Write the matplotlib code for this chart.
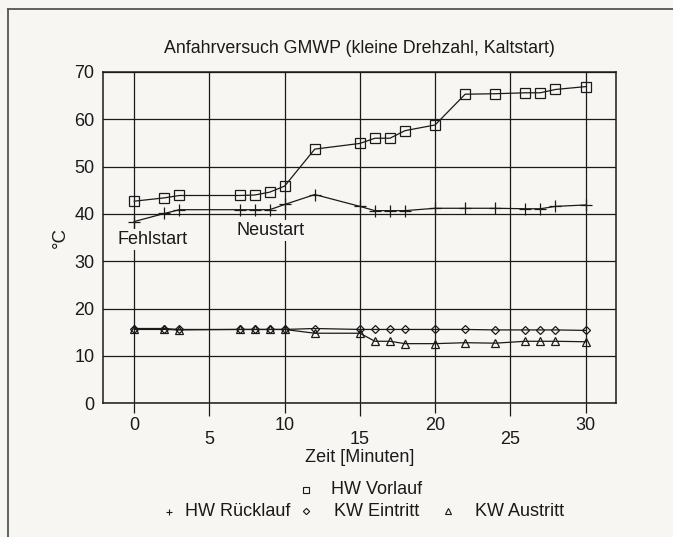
import matplotlib
matplotlib.use("Agg")
import matplotlib.pyplot as plt
from matplotlib.lines import Line2D

plt.rcParams["font.family"] = ["Liberation Sans", "DejaVu Sans"]

# Messwerte
zeit = [0, 2, 3, 7, 8, 9, 10, 12, 15, 16, 17, 18, 20, 22, 24, 26, 27, 28, 30]
hw_vorlauf = [42.7, 43.4, 43.9, 43.9, 44.0, 44.6, 45.9, 53.7, 54.9, 56.0,
              56.0, 57.6, 58.8, 65.3, 65.4, 65.6, 65.6, 66.3, 66.9]
hw_ruecklauf = [38.4, 40.1, 40.9, 40.9, 40.9, 40.9, 42.0, 44.1, 41.6, 40.7,
                40.7, 40.7, 41.2, 41.2, 41.2, 41.1, 41.1, 41.6, 41.9]
kw_eintritt = [15.8, 15.8, 15.6, 15.6, 15.6, 15.6, 15.6, 15.8, 15.6, 15.6,
               15.6, 15.6, 15.6, 15.6, 15.5, 15.5, 15.5, 15.5, 15.4]
kw_austritt = [15.6, 15.6, 15.5, 15.6, 15.6, 15.6, 15.6, 14.8, 14.8, 13.1,
               13.1, 12.6, 12.6, 12.8, 12.7, 13.1, 13.1, 13.1, 13.0]

major_x = [0, 10, 20, 30]
minor_x = [5, 15, 25]
y_ticks = [0, 10, 20, 30, 40, 50, 60, 70]

bg = "#f7f6f3"
ink = "#1a1a1a"

fig = plt.figure(figsize=(6.73, 5.37), dpi=100, facecolor=bg)
ax = fig.add_axes([0.1526, 0.249, 0.7632, 0.617], facecolor=bg)

ax.plot(zeit, hw_vorlauf, color=ink, lw=0.9, marker="s", ms=6.5,
        mfc="none", mec=ink, mew=0.9)
ax.plot(zeit, hw_ruecklauf, color=ink, lw=0.9, marker="+", ms=8, mew=0.9)
ax.plot(zeit, kw_eintritt, color=ink, lw=0.9, marker="D", ms=4.5,
        mfc="none", mec=ink, mew=0.9)
ax.plot(zeit, kw_austritt, color=ink, lw=0.9, marker="^", ms=6,
        mfc="none", mec=ink, mew=0.9)

ax.set_xlim(-2.1, 32.05)
ax.set_ylim(0, 70)
ax.set_xticks(major_x)
ax.set_xticks(minor_x, minor=True)
ax.set_xticklabels([str(v) for v in major_x])
ax.set_xticklabels([str(v) for v in minor_x], minor=True)
ax.set_yticks(y_ticks)
ax.tick_params(axis="x", which="major", direction="out", length=7, width=0.9,
               pad=3, labelsize=13, colors=ink)
ax.tick_params(axis="x", which="minor", direction="out", length=9, width=0.9,
               pad=11, labelsize=13, colors=ink)
ax.tick_params(axis="y", length=0, pad=6, labelsize=13, colors=ink)
ax.grid(True, which="both", color=ink, lw=0.9)
ax.set_axisbelow(True)
for s in ax.spines.values():
    s.set_color(ink)
    s.set_linewidth(1.1)

ax.set_title("Anfahrversuch GMWP (kleine Drehzahl, Kaltstart)", fontsize=12.8,
             color=ink, pad=14)
ax.set_xlabel("Zeit [Minuten]", fontsize=13, color=ink, labelpad=1)
ax.set_ylabel("°C", fontsize=13.5, color=ink, labelpad=4)

box = dict(facecolor=bg, edgecolor="none", pad=1.5)
ax.text(1.23, 34.6, "Fehlstart", ha="center", va="center", fontsize=13,
        color=ink, bbox=box)
ax.text(9.05, 36.5, "Neustart", ha="center", va="center", fontsize=13,
        color=ink, bbox=box)

# Legende von Hand (zwei Zeilen)
W, H = 673.0, 537.0
def leg(px, tx, py, marker, ms, label):
    fig.add_artist(Line2D([px / W], [1 - py / H], transform=fig.transFigure,
                          marker=marker, ms=ms, mfc="none", mec=ink, mew=0.8,
                          color=ink, ls="none"))
    fig.text(tx / W, 1 - py / H, label, ha="left", va="center",
             fontsize=13, color=ink)

leg(305.7, 331, 490, "s", 4, "HW Vorlauf")
leg(169.3, 185, 512, "+", 5, "HW Rücklauf")
leg(305.7, 334, 511, "D", 3.2, "KW Eintritt")
leg(448, 475, 511, "^", 4, "KW Austritt")

# Rahmen oben und links
fig.add_artist(Line2D([8 / W, 1], [1 - 9 / H, 1 - 9 / H],
                      transform=fig.transFigure, color="#555555", lw=1.3))
fig.add_artist(Line2D([8 / W, 8 / W], [1 - 9 / H, 0],
                      transform=fig.transFigure, color="#555555", lw=1.3))

fig.savefig("out.png", dpi=100, facecolor=bg)
